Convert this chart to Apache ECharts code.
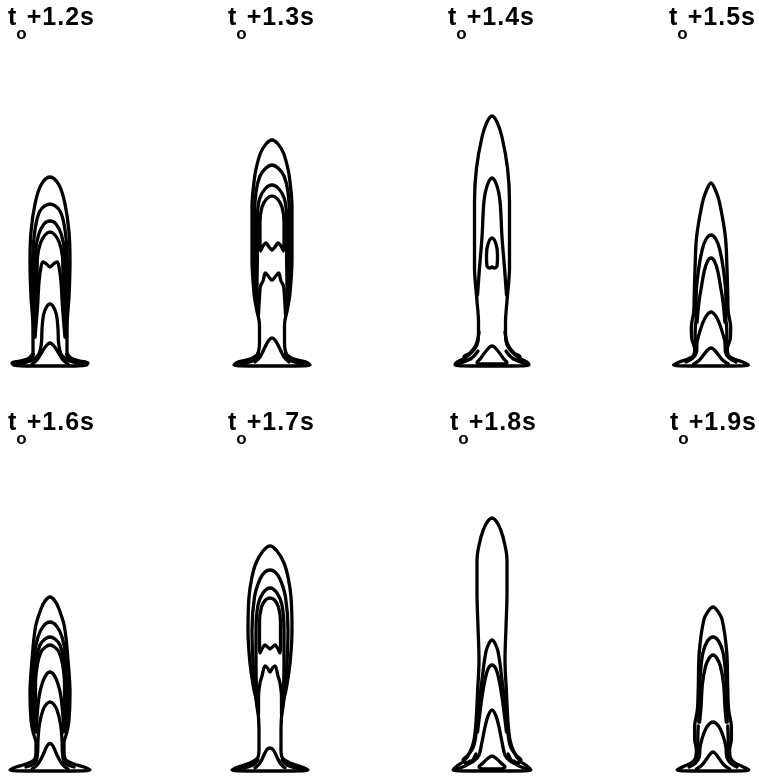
<!DOCTYPE html>
<html>
<head>
<meta charset="utf-8">
<script src="https://cdn.jsdelivr.net/npm/echarts@6/dist/echarts.min.js"></script>
<style>
  html, body { margin: 0; padding: 0; background: #fff; }
  #chart { width: 759px; height: 780px; }
</style>
</head>
<body>
<div id="chart"></div>
<script>
// Time offset of each snapshot after t_o
const timeLabels = ['+1.2s', '+1.3s', '+1.4s', '+1.5s', '+1.6s', '+1.7s', '+1.8s', '+1.9s'];

// Iso-contours of each snapshot. The flame is axisymmetric, so every contour
// is stored as its right half: [r, z] points from the lower end up to the top.
// A contour whose top does not reach r = 0 is a side piece drawn on both sides.
const flame12 = [
  [[0,1],[20,1],[36,2],[38,4],[30,6],[21,9],[17,15],[17,40],[19,70],[20,105],[19,135],[15,163],[9,182],[0,190]],
  [[16.5,30],[17,60],[17.5,90],[17,115],[15,137],[10,156],[0,163]],
  [[16,30],[15.5,60],[15,90],[14.5,115],[11.5,132],[6,143],[0,146]],
  [[15.5,30],[14,60],[13,90],[12.5,110],[9.5,124],[5,132],[0,135]],
  [[15,30],[12.5,60],[11,85],[9,100],[7,105],[3.5,103],[0,100]],
  [[26,4],[16,8],[11,13],[8.5,25],[8,38],[6.5,52],[3.5,60],[0,63]],
  [[18,3],[13,7],[8,15],[4,21],[0,24]],
  [[34,3],[25,5],[19,8],[16.5,13]]
];
const flame13 = [
  [[0,1],[22,1],[38,2],[34,5],[22,8],[14.5,13],[12.5,25],[12.5,42],[15.5,58],[18,74],[20,108],[20,160],[18,185],[16,198],[11.5,214],[6,223],[0,227]],
  [[15,58],[17,80],[17.5,110],[17.5,150],[16,175],[12,191],[6,199],[0,202]],
  [[14.5,56],[15,80],[14.5,120],[14.5,150],[12.5,168],[7,178],[0,182]],
  [[0,117],[3,120],[6,124],[9,121],[11.5,116],[12,125],[12,145],[10,160],[5.5,168],[0,171]],
  [[13.5,52],[12.5,70],[11.5,81],[9,86],[6.5,94],[3,90],[0,87]],
  [[17,5],[12,10],[7,20],[3,27],[0,29]],
  [[36,2.5],[26,4],[18,7],[13.5,13]]
];
const flame14 = [
  [[0,1],[20,1],[37,2],[35,5],[27,9],[20,15],[15,22],[13.5,32],[13.5,45],[15,66],[17.5,100],[17.5,166],[15.5,199],[10,230],[5,245],[0,251]],
  [[14.5,72],[12.5,99],[10,130],[8,166],[5,181],[0,189]],
  [[0,100],[2.5,99],[5,101],[5.5,112],[4,123],[0,129]],
  [[0,3],[10,3],[15,4.5],[11,9],[6,16],[0,21]],
  [[13,35],[16,22],[22,14],[28,10],[26,7],[21,8]],
  [[35,3],[26,6],[19,10],[14,16]]
];
const flame15 = [
  [[0,1],[22,1],[39,2],[33,5],[24,8],[18,12],[17,18],[20,28],[20.5,40],[18,55],[17.5,70],[16.7,97],[15,130],[9,164],[5,176],[0,184]],
  [[15.5,45],[15.5,70],[13,97],[9,118],[5,128],[0,132]],
  [[14.5,45],[12.5,65],[10,80],[7,96],[3.5,106],[0,109]],
  [[26,5],[19,9],[15,15],[14.5,25],[13,31],[9,43],[5,51],[0,55]],
  [[16,15],[16.5,25],[16.5,35],[16,44]],
  [[18,3],[12,7],[7,13],[3,17.5],[0,19]]
];
const flame16 = [
  [[0,1],[22,1],[40,2],[34,5],[24,8],[16,12],[14,20],[14,29],[16.7,39],[19,52],[20,79],[18,112],[14.5,145],[9,163],[5,171],[0,175]],
  [[15.5,42],[17.5,60],[18,85],[16,115],[12,135],[6.5,146],[0,150]],
  [[15,42],[16,60],[16,88],[14,112],[10,127],[5,133],[0,135]],
  [[14.5,42],[14.5,60],[14.5,88],[12.5,108],[9,120],[4.5,125],[0,127]],
  [[14,40],[13,55],[11,75],[8,88],[4,97],[0,100]],
  [[24,5],[15,9],[12.5,18],[12,32],[10.5,48],[7,62],[3.5,68],[0,70]],
  [[18,3],[12,8],[7,17],[3,26],[0,28.5]]
];
const flame17 = [
  [[0,1],[22,1],[38,2],[32,5],[20,9],[12.5,14],[11,22],[11,42],[13,69],[16,82],[20,109],[22,142],[21,175],[18,195],[14,209],[7,221],[0,226]],
  [[12.5,62],[15,82],[17,109],[18,142],[15.5,175],[10,193],[5,200],[0,202]],
  [[12,60],[13.5,82],[14,109],[14,142],[12,167],[7,179],[0,184]],
  [[0,123],[2.5,125],[5,127],[7.5,124],[10,119],[10.5,130],[10.5,150],[8.5,165],[4.5,172],[0,174]],
  [[11.5,58],[11.5,75],[10,89],[8,96],[5,106],[2.5,104],[0,100]],
  [[15,4],[10,9],[6,17],[3,22.5],[0,24]],
  [[36,2.5],[26,4],[17,7],[12,12]]
];
const flame18 = [
  [[0,1],[22,1],[39,2],[35,6],[28,11],[22,20],[18,32],[16,50],[14.5,79],[13,112],[14,145],[15,179],[15,212],[11,235],[6,248],[0,254]],
  [[15,42],[13.5,62],[11.5,80],[9,100],[7.5,112],[5,124],[0,132]],
  [[14.5,40],[12,60],[10,75],[7,92],[4,103],[0,107]],
  [[26,7],[18,11],[13,17],[10,30],[7,45],[4,56],[0,62]],
  [[0,3],[9,3],[13,5],[9,9],[5,13],[0,16]],
  [[16,38],[19,24],[25,16],[29,12],[26,9],[22,11]],
  [[36,3],[27,6],[20,11],[16,18]]
];
const flame19 = [
  [[0,1],[22,1],[39,2],[33,5],[24,9],[19,14],[18,22],[20,33],[20,45],[17,62],[16,85],[15,119],[10,152],[5,161],[0,165]],
  [[15.5,50],[15,70],[14,95],[11,119],[6,131],[0,135]],
  [[14.5,50],[13,65],[11.5,88],[8,106],[4,114],[0,117]],
  [[26,5],[19,9],[15,15],[14,25],[11,36],[6,46],[0,50]],
  [[16,15],[16.5,24],[16.5,34],[16,46]],
  [[18,3],[12,7],[7,13],[3,18],[0,20]]
];

const snapshots = [flame12, flame13, flame14, flame15, flame16, flame17, flame18, flame19];

// Layout: axis of symmetry (x) and burner level (y) of each panel, in pixels
const panelAxisX = [50, 272, 492, 713, 50, 270, 492, 717];
const panelBaseY = [367, 367, 367, 367, 772, 772, 772, 772];
const titleLeft = [8, 228, 448, 669, 8, 228, 450, 670];
const titleTop = [6, 6, 6, 6, 411, 411, 411, 411];
const PANEL_W = 100, PANEL_H = 260;

const chart = echarts.init(document.getElementById('chart'), null, { renderer: 'canvas' });

const grids = [], xAxes = [], yAxes = [], series = [], titles = [];

const lineBase = {
  type: 'line',
  showSymbol: false,
  symbol: 'none',
  smooth: 0.35,
  clip: false,
  silent: true,
  animation: false,
  lineStyle: { color: '#000', width: 3.3, cap: 'round', join: 'round' }
};

const labelFont = { fontFamily: 'Liberation Sans', fontWeight: 'bold', color: '#000' };

snapshots.forEach((contours, i) => {
  grids.push({
    left: panelAxisX[i] - PANEL_W / 2,
    top: panelBaseY[i] - PANEL_H,
    width: PANEL_W,
    height: PANEL_H
  });
  xAxes.push({ gridIndex: i, type: 'value', min: -50, max: 50, show: false });
  yAxes.push({ gridIndex: i, type: 'value', min: 0, max: 260, show: false });

  contours.forEach(profile => {
    const left = profile.map(p => [-p[0], p[1]]);
    const right = profile.slice().reverse();
    const top = profile[profile.length - 1];
    if (top[0] === 0) {
      series.push(Object.assign({}, lineBase, {
        xAxisIndex: i, yAxisIndex: i,
        data: left.concat(right.slice(1))
      }));
    } else {
      series.push(Object.assign({}, lineBase, { xAxisIndex: i, yAxisIndex: i, data: left }));
      series.push(Object.assign({}, lineBase, { xAxisIndex: i, yAxisIndex: i, data: profile }));
    }
  });

  // "t" with subscript "o", then the offset with slightly open letter spacing
  const offsetTokens = timeLabels[i].split('').map(ch => '{d|' + ch + '}').join('');
  titles.push({
    text: '{t|t}{o|o}' + offsetTokens,
    left: titleLeft[i],
    top: titleTop[i],
    padding: 0,
    textStyle: {
      rich: {
        t: Object.assign({ fontSize: 25, lineHeight: 25, verticalAlign: 'top' }, labelFont),
        d: Object.assign({ fontSize: 25, lineHeight: 25, verticalAlign: 'top', padding: [0, 1, 0, 0] }, labelFont),
        o: Object.assign({ fontSize: 17, lineHeight: 17, padding: [20, 0, 0, 0], verticalAlign: 'top' }, labelFont)
      }
    }
  });
});

chart.setOption({
  backgroundColor: '#fff',
  animation: false,
  title: titles,
  grid: grids,
  xAxis: xAxes,
  yAxis: yAxes,
  series: series
});
</script>
</body>
</html>
